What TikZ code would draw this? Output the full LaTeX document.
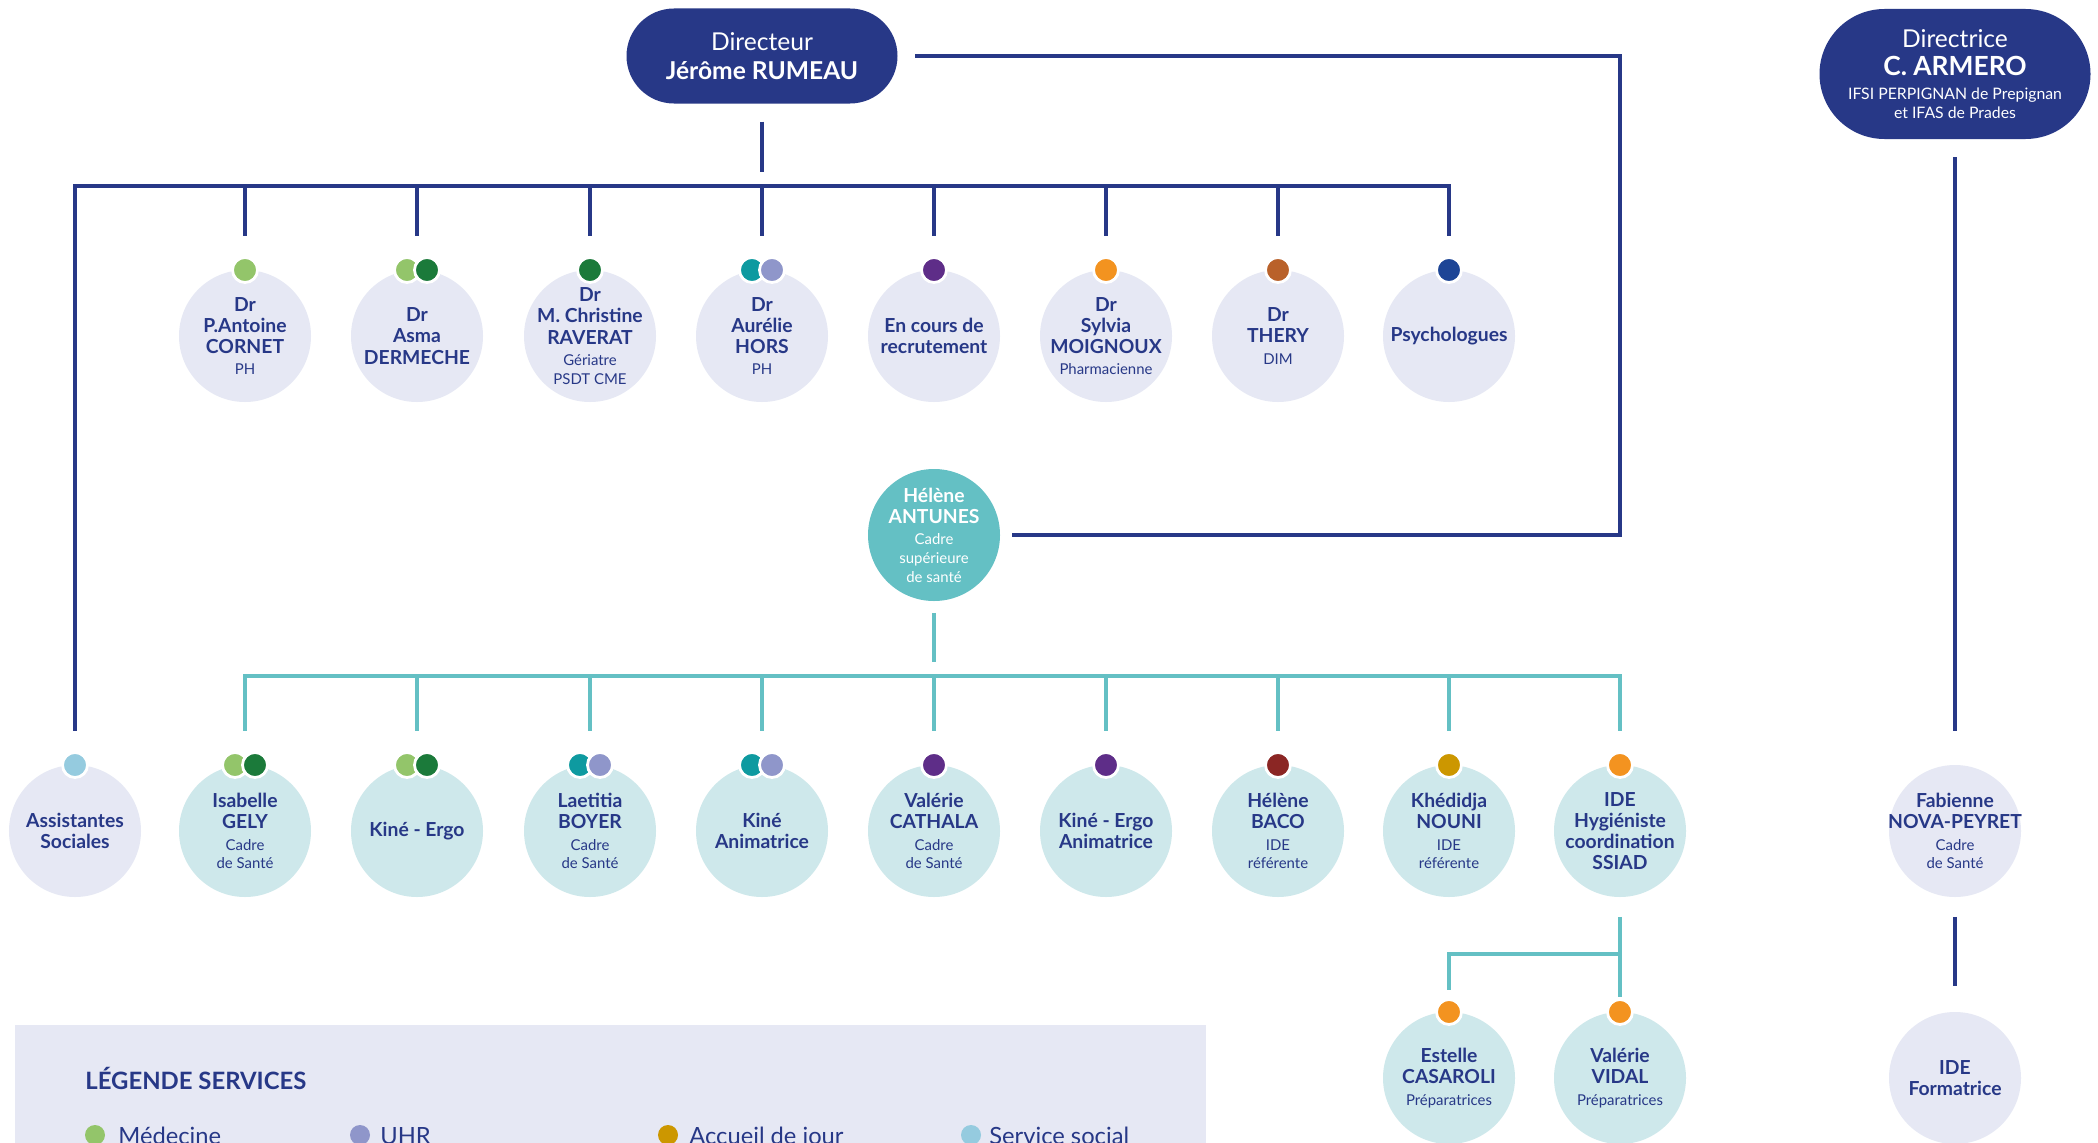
\documentclass[tikz,border=0pt]{standalone}
\usepackage{fontspec}
\setmainfont{Lato}
\definecolor{cnavy}{RGB}{39,56,135}
\definecolor{cteal}{RGB}{100,192,196}
\definecolor{clilac}{RGB}{230,232,244}
\definecolor{cpale}{RGB}{206,232,235}
\definecolor{cmed}{RGB}{147,197,106}
\definecolor{cdkgreen}{RGB}{27,122,58}
\definecolor{cuhrteal}{RGB}{14,154,160}
\definecolor{cuhr}{RGB}{143,150,202}
\definecolor{cpurple}{RGB}{94,45,136}
\definecolor{corange}{RGB}{243,147,32}
\definecolor{cbrown}{RGB}{185,97,42}
\definecolor{cpsy}{RGB}{29,69,150}
\definecolor{csocial}{RGB}{149,203,223}
\definecolor{cdkred}{RGB}{139,38,36}
\definecolor{cgold}{RGB}{204,151,0}
\newcommand\rl{\fontsize{8.5}{10.6}\selectfont\mdseries}
\begin{document}
\begin{tikzpicture}[scale=0.2]
\tikzstyle{pill}=[rectangle, fill=cnavy, text=white, align=center, outer sep=0.36cm, minimum width=5.42cm]
\tikzstyle{pers}=[circle, fill=clilac, text=cnavy, align=center, inner sep=-0.4cm, outer sep=0.68cm, minimum size=2.64cm, font=\fontsize{11}{12.1}\selectfont\bfseries]
\tikzstyle{staff}=[pers, fill=cpale]
\tikzstyle{dot}=[circle, draw=white, line width=1.6pt, inner sep=0pt, minimum size=0.5cm]
\tikzstyle{navyline}=[draw=cnavy, line width=2.8pt]
\tikzstyle{tealline}=[draw=cteal, line width=2.8pt]
\tikzstyle{legdot}=[circle, inner sep=0pt, minimum size=0.4cm]
\tikzstyle{legtext}=[anchor=base west, inner sep=0pt, text=cnavy, font=\fontsize{13.5}{15}\selectfont]
\useasboundingbox (0,0) rectangle (209.8,-114.3);
\clip (0,0) rectangle (209.8,-114.3);
\fill[white] (0,0) rectangle (209.8,-114.3);
% directors
\node[pill, rounded corners=0.95cm, minimum height=1.9cm, font=\fontsize{14}{16.8}\selectfont] (dir) at (76.2,-5.6) {Directeur\\{\bfseries J\'er\^ome RUMEAU}};
\node[pill, rounded corners=1.3cm, minimum height=2.6cm, font=\fontsize{14}{16}\selectfont] (dirice) at (195.5,-7.4) {Directrice\\{\bfseries\fontsize{15}{16}\selectfont C. ARMERO}\\[-2pt]{\fontsize{9}{10.6}\selectfont IFSI PERPIGNAN de Prepignan}\\[-5.3pt]{\fontsize{9}{10.6}\selectfont et IFAS de Prades}};
% medical row
\node[pers] (cornet) at (24.5,-33.6) {Dr\\P.Antoine\\CORNET\\{\rl PH}};
\node[pers] (dermeche) at (41.7,-33.6) {Dr\\Asma\\DERMECHE};
\node[pers] (raverat) at (59.0,-33.6) {Dr\\M. Christine\\RAVERAT\\{\rl G\'eriatre}\\[-1.5pt]{\rl PSDT CME}};
\node[pers] (hors) at (76.2,-33.6) {Dr\\Aur\'elie\\HORS\\{\rl PH}};
\node[pers] (recrut) at (93.4,-33.6) {En cours de\\recrutement};
\node[pers] (moignoux) at (110.6,-33.6) {Dr\\Sylvia\\MOIGNOUX\\{\rl Pharmacienne}};
\node[pers] (thery) at (127.8,-33.6) {Dr\\THERY\\{\rl DIM}};
\node[pers] (psycho) at (144.9,-33.6) {Psychologues};
\node[dot, fill=cmed] (dcornet) at ([shift={(0,6.6)}]cornet.center) {};
\node[dot, fill=cmed] (ddermeche1) at ([shift={(-1,6.6)}]dermeche.center) {};
\node[dot, fill=cdkgreen] (ddermeche2) at ([shift={(1,6.6)}]dermeche.center) {};
\node[dot, fill=cdkgreen] (draverat) at ([shift={(0,6.6)}]raverat.center) {};
\node[dot, fill=cuhrteal] (dhors1) at ([shift={(-1,6.6)}]hors.center) {};
\node[dot, fill=cuhr] (dhors2) at ([shift={(1,6.6)}]hors.center) {};
\node[dot, fill=cpurple] (drecrut) at ([shift={(0,6.6)}]recrut.center) {};
\node[dot, fill=corange] (dmoignoux) at ([shift={(0,6.6)}]moignoux.center) {};
\node[dot, fill=cbrown] (dthery) at ([shift={(0,6.6)}]thery.center) {};
\node[dot, fill=cpsy] (dpsycho) at ([shift={(0,6.6)}]psycho.center) {};
% cadre superieure
\node[pers, fill=cteal, text=white, outer sep=0.24cm] (antunes) at (93.4,-53.5) {H\'el\`ene\\ANTUNES\\{\rl Cadre}\\[-1.5pt]{\rl sup\'erieure}\\[-1.5pt]{\rl de sant\'e}};
% care row
\node[pers] (asso) at (7.5,-83.1) {Assistantes\\Sociales};
\node[staff] (gely) at (24.5,-83.1) {Isabelle\\GELY\\{\rl Cadre}\\[-1.5pt]{\rl de Sant\'e}};
\node[staff] (kine) at (41.7,-83.1) {Kin\'e - Ergo};
\node[staff] (boyer) at (59.0,-83.1) {Laetitia\\BOYER\\{\rl Cadre}\\[-1.5pt]{\rl de Sant\'e}};
\node[staff] (kineanim) at (76.2,-83.1) {Kin\'e\\Animatrice};
\node[staff] (cathala) at (93.4,-83.1) {Val\'erie\\CATHALA\\{\rl Cadre}\\[-1.5pt]{\rl de Sant\'e}};
\node[staff] (kineergo) at (110.6,-83.1) {Kin\'e - Ergo\\Animatrice};
\node[staff] (baco) at (127.8,-83.1) {H\'el\`ene\\BACO\\{\rl IDE}\\[-1.5pt]{\rl r\'ef\'erente}};
\node[staff] (nouni) at (144.9,-83.1) {Kh\'edidja\\NOUNI\\{\rl IDE}\\[-1.5pt]{\rl r\'ef\'erente}};
\node[staff] (ssiad) at (162.0,-83.1) {IDE\\Hygi\'eniste\\coordination\\SSIAD};
\node[pers] (fabienne) at (195.5,-83.1) {Fabienne\\NOVA-PEYRET\\{\rl Cadre}\\[-1.5pt]{\rl de Sant\'e}};
\node[dot, fill=csocial] (dasso) at ([shift={(0,6.6)}]asso.center) {};
\node[dot, fill=cmed] (dgely1) at ([shift={(-1,6.6)}]gely.center) {};
\node[dot, fill=cdkgreen] (dgely2) at ([shift={(1,6.6)}]gely.center) {};
\node[dot, fill=cmed] (dkine1) at ([shift={(-1,6.6)}]kine.center) {};
\node[dot, fill=cdkgreen] (dkine2) at ([shift={(1,6.6)}]kine.center) {};
\node[dot, fill=cuhrteal] (dboyer1) at ([shift={(-1,6.6)}]boyer.center) {};
\node[dot, fill=cuhr] (dboyer2) at ([shift={(1,6.6)}]boyer.center) {};
\node[dot, fill=cuhrteal] (dkineanim1) at ([shift={(-1,6.6)}]kineanim.center) {};
\node[dot, fill=cuhr] (dkineanim2) at ([shift={(1,6.6)}]kineanim.center) {};
\node[dot, fill=cpurple] (dcathala) at ([shift={(0,6.6)}]cathala.center) {};
\node[dot, fill=cpurple] (dkineergo) at ([shift={(0,6.6)}]kineergo.center) {};
\node[dot, fill=cdkred] (dbaco) at ([shift={(0,6.6)}]baco.center) {};
\node[dot, fill=cgold] (dnouni) at ([shift={(0,6.6)}]nouni.center) {};
\node[dot, fill=corange] (dssiad) at ([shift={(0,6.6)}]ssiad.center) {};
% last row
\node[staff] (casaroli) at (144.9,-107.8) {Estelle\\CASAROLI\\{\rl Pr\'eparatrices}};
\node[staff] (vidal) at (162.0,-107.8) {Val\'erie\\VIDAL\\{\rl Pr\'eparatrices}};
\node[pers] (formatrice) at (195.5,-107.8) {IDE\\Formatrice};
\node[dot, fill=corange] (dcasaroli) at ([shift={(0,6.6)}]casaroli.center) {};
\node[dot, fill=corange] (dvidal) at ([shift={(0,6.6)}]vidal.center) {};
% navy links
\coordinate (topbar) at (76.2,-18.6);
\coordinate (rcorner) at (162.0,-5.6);
\draw[navyline, shorten >=0.28cm] (dir.south) -- (topbar);
\draw[navyline] (asso.north) |- (topbar) -| (psycho.north);
\draw[navyline] (topbar -| cornet) -- (cornet.north);
\draw[navyline] (topbar -| dermeche) -- (dermeche.north);
\draw[navyline] (topbar -| raverat) -- (raverat.north);
\draw[navyline] (topbar -| hors) -- (hors.north);
\draw[navyline] (topbar -| recrut) -- (recrut.north);
\draw[navyline] (topbar -| moignoux) -- (moignoux.north);
\draw[navyline] (topbar -| thery) -- (thery.north);
\draw[navyline] (dir.east) -- (rcorner) |- (antunes.east);
\draw[navyline] (dirice.south) -- (fabienne.north);
\draw[navyline, shorten <=-0.28cm, shorten >=-0.16cm] (fabienne.south) -- (formatrice.north);
% teal links
\coordinate (tealbar) at (93.4,-67.6);
\coordinate (ssbar) at (162.0,-95.4);
\draw[tealline, shorten >=0.28cm] (antunes.south) -- (tealbar);
\draw[tealline] (gely.north) |- (tealbar) -| (ssiad.north);
\draw[tealline] (tealbar -| kine) -- (kine.north);
\draw[tealline] (tealbar -| boyer) -- (boyer.north);
\draw[tealline] (tealbar -| kineanim) -- (kineanim.north);
\draw[tealline] (tealbar -| cathala) -- (cathala.north);
\draw[tealline] (tealbar -| kineergo) -- (kineergo.north);
\draw[tealline] (tealbar -| baco) -- (baco.north);
\draw[tealline] (tealbar -| nouni) -- (nouni.north);
\draw[tealline, shorten <=-0.28cm, shorten >=-0.38cm] (ssiad.south) -- (vidal.north);
\draw[tealline, shorten <=-0.24cm] (casaroli.north) |- (ssbar);
% legend
\node[rectangle, fill=clilac, anchor=north west, inner sep=0pt, minimum width=23.82cm, minimum height=3cm] (legbox) at (1.5,-102.5) {};
\node[anchor=west, inner sep=0pt, text=cnavy, font=\fontsize{13.6}{15}\selectfont\bfseries] (legtitle) at (8.5,-107.8) {L\'EGENDE SERVICES};
\node[legdot, fill=cmed] (ldmed) at (9.5,-113.5) {};
\node[legtext] (lmed) at (11.8,-114.45) {M\'edecine};
\node[legdot, fill=cuhr] (lduhr) at (36.0,-113.5) {};
\node[legtext] (luhr) at (38.0,-114.45) {UHR};
\node[legdot, fill=cgold] (ldjour) at (66.8,-113.5) {};
\node[legtext] (ljour) at (68.9,-114.45) {Accueil de jour};
\node[legdot, fill=csocial] (ldsoc) at (97.1,-113.5) {};
\node[legtext] (lsoc) at (98.9,-114.45) {Service social};
\end{tikzpicture}
\end{document}
